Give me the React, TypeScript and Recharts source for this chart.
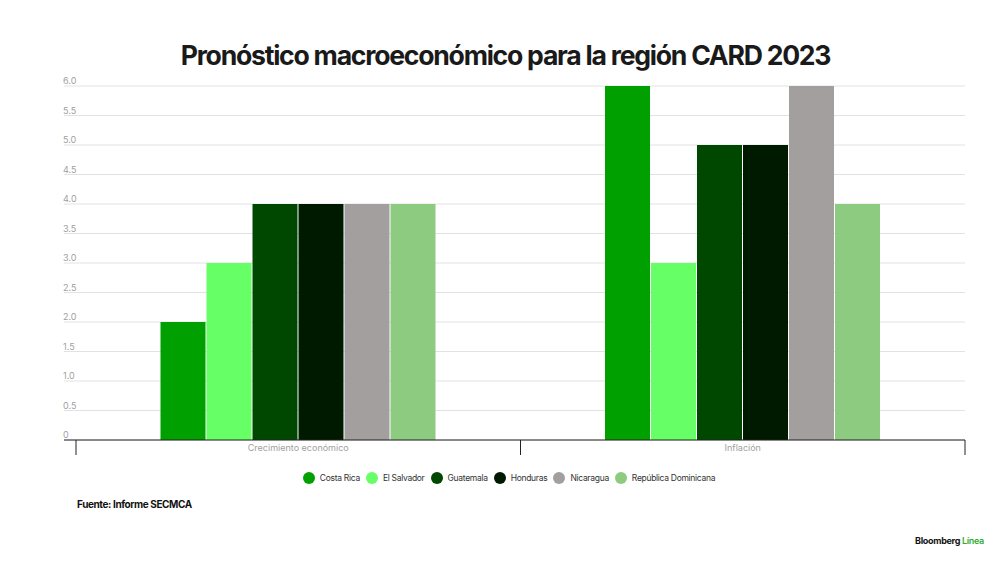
import React from 'react';
import { BarChart, Bar, XAxis, YAxis, CartesianGrid } from 'recharts';

const categories = ['Crecimiento económico', 'Inflación'];
const costaRica = [2, 6];
const elSalvador = [3, 3];
const guatemala = [4, 5];
const honduras = [4, 5];
const nicaragua = [4, 6];
const republicaDominicana = [4, 4];
const yTicks = [0, 0.5, 1, 1.5, 2, 2.5, 3, 3.5, 4, 4.5, 5, 5.5, 6];

const series = [
  { key: 'costaRica', name: 'Costa Rica', color: '#00A000', values: costaRica },
  { key: 'elSalvador', name: 'El Salvador', color: '#66FF66', values: elSalvador },
  { key: 'guatemala', name: 'Guatemala', color: '#004700', values: guatemala },
  { key: 'honduras', name: 'Honduras', color: '#001A00', values: honduras },
  { key: 'nicaragua', name: 'Nicaragua', color: '#A39F9E', values: nicaragua },
  { key: 'republicaDominicana', name: 'República Dominicana', color: '#8DCB80', values: republicaDominicana },
];

const data = categories.map((cat, i) => {
  const row: Record<string, string | number> = { category: cat };
  series.forEach((s) => {
    row[s.key] = s.values[i];
  });
  return row;
});

const FONT = 'Inter, "Noto Sans", sans-serif';

const YTick = (props: any) => {
  const { y, payload } = props;
  const v = payload.value;
  const label = v === 0 ? '0' : v.toFixed(1);
  return (
    <text x={63} y={y - 2} fill="#a0a0a0" fontSize={9} fontFamily={FONT} textAnchor="start">
      {label}
    </text>
  );
};

const XTick = (props: any) => {
  const { x, y, payload, index } = props;
  const off = payload.offset || 0;
  const last = index === categories.length - 1;
  return (
    <g>
      <line x1={x - off} x2={x - off} y1={y - 8} y2={y + 7} stroke="#222" strokeWidth={1} />
      {last && <line x1={x + off} x2={x + off} y1={y - 8} y2={y + 7} stroke="#222" strokeWidth={1} />}
      <text x={x} y={y + 3} fill="#a0a0a0" fontSize={9} fontFamily={FONT} textAnchor="middle">
        {payload.value}
      </text>
    </g>
  );
};

export default function App() {
  return (
    <div
      style={{
        position: 'absolute',
        left: 0,
        top: 0,
        width: 1000,
        height: 562,
        background: '#fff',
        overflow: 'hidden',
      }}
    >
      <div
        style={{
          position: 'absolute',
          top: 39,
          left: 0,
          width: 1011,
          textAlign: 'center',
          fontFamily: FONT,
          fontWeight: 700,
          fontSize: 26.6,
          letterSpacing: -1.25,
          color: '#1a1a1a',
        }}
      >
        Pronóstico macroeconómico para la región CARD 2023
      </div>
      <BarChart
        width={1000}
        height={562}
        data={data}
        margin={{ top: 86, right: 35, bottom: 92, left: 54 }}
        barGap={1}
        barCategoryGap={84.5}
        style={{ position: 'absolute', left: 0, top: 0 }}
      >
        <CartesianGrid vertical={false} stroke="#e2e2e2" strokeWidth={1} />
        <XAxis
          dataKey="category"
          padding={{ left: 12, right: 0 }}
          axisLine={{ stroke: '#222', strokeWidth: 1 }}
          tickLine={false}
          tick={<XTick />}
          interval={0}
          height={30}
        />
        <YAxis
          domain={[0, 6]}
          ticks={yTicks}
          axisLine={false}
          tickLine={false}
          tick={<YTick />}
          width={10}
          interval={0}
        />
        {series.map((s) => (
          <Bar
            key={s.key}
            dataKey={s.key}
            name={s.name}
            fill={s.color}
            isAnimationActive={false}
          />
        ))}
      </BarChart>
      <div
        style={{
          position: 'absolute',
          top: 472,
          left: 0,
          width: 1024,
          display: 'flex',
          justifyContent: 'center',
          alignItems: 'center',
          fontFamily: FONT,
          fontSize: 8.5,
          color: '#333',
          letterSpacing: -0.3,
        }}
      >
        {series.map((s) => (
          <div key={s.key} style={{ display: 'flex', alignItems: 'center', marginRight: 6 }}>
            <span
              style={{
                width: 12,
                height: 12,
                borderRadius: 6,
                background: s.color,
                display: 'inline-block',
                marginRight: 5,
              }}
            />
            <span>{s.name}</span>
          </div>
        ))}
      </div>
      <div
        style={{
          position: 'absolute',
          top: 498,
          left: 77,
          fontFamily: FONT,
          fontWeight: 700,
          fontSize: 10,
          letterSpacing: -0.4,
          color: '#111',
        }}
      >
        Fuente: Informe SECMCA
      </div>
      <div
        style={{
          position: 'absolute',
          top: 535,
          left: 915,
          fontFamily: FONT,
          fontWeight: 700,
          fontSize: 9,
          letterSpacing: -0.3,
          color: '#111',
        }}
      >
        Bloomberg <span style={{ color: '#2eae2e', fontWeight: 600 }}>Línea</span>
      </div>
    </div>
  );
}
